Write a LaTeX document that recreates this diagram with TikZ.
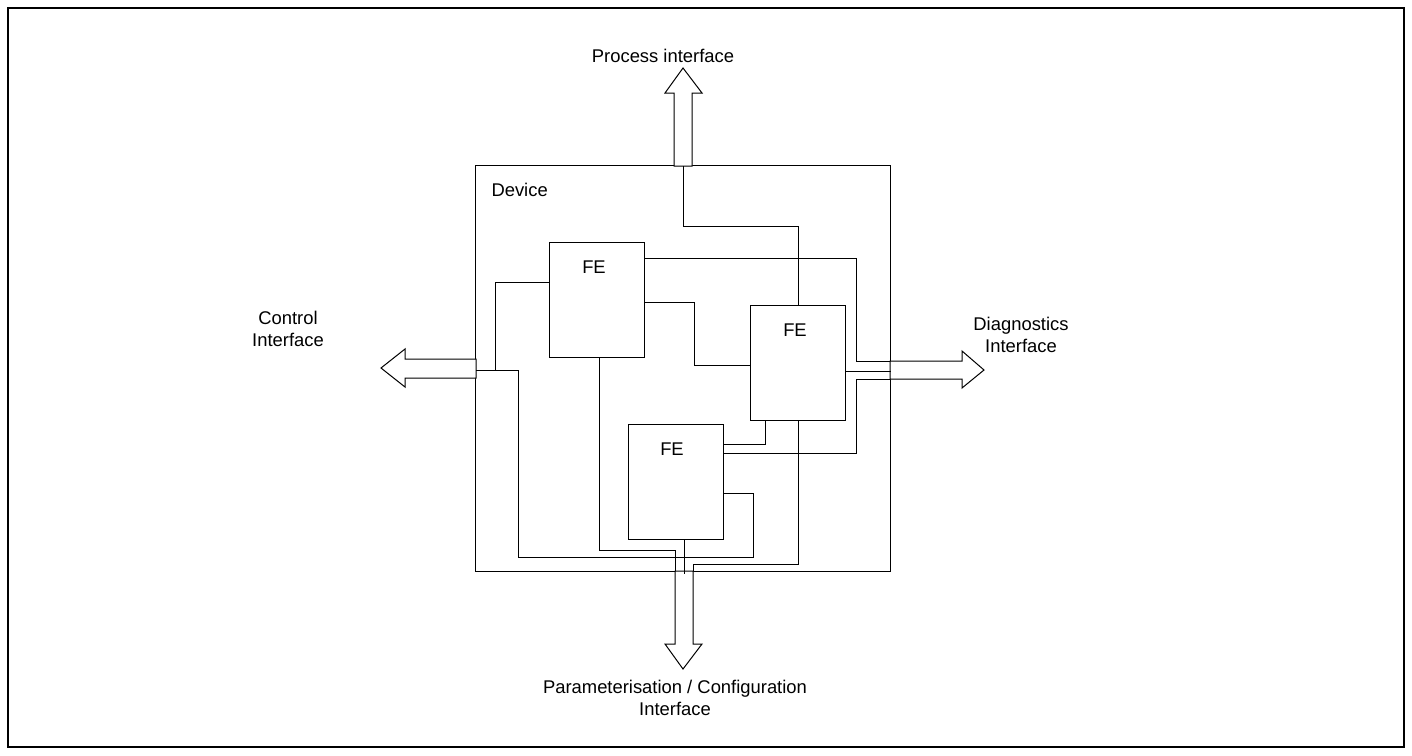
\documentclass[tikz,border=0pt]{standalone}
\usepackage{fontspec}
\setmainfont{Liberation Sans}
\begin{document}
\begin{tikzpicture}[x=0.5pt, y=-0.5pt, line width=0.5pt,
  lbl/.style={font=\fontsize{9.2}{11}\selectfont, inner sep=0pt},
  febox/.style={draw, minimum width=47.5pt, minimum height=57.5pt, inner sep=0pt},
  wire/.style={draw},
  iface/.style={draw, fill=white}]
\useasboundingbox (0,0) rectangle (1412,755);
\draw[line width=0.75pt] (8,8) rectangle (1404,747);
\node[draw, minimum width=207.5pt, minimum height=203pt, inner sep=0pt] (device) at (682.5,368) {};
\node[lbl, anchor=base west] (devicetext) at (491,196) {Device};
\node[febox] (fe1) at (596.5,299.5) {};
\node[febox] (fe2) at (798,363) {};
\node[febox] (fe3) at (675.5,481.5) {};
\node[lbl, anchor=base] (fe1text) at (594,273) {FE};
\node[lbl, anchor=base] (fe2text) at (795,336) {FE};
\node[lbl, anchor=base] (fe3text) at (672,455) {FE};
% interfaces
\draw[iface] (674,166) -- (674,93) -- (665,93) -- (683,68) -- (702,93) -- (692,93) -- (692,166) -- cycle;
\draw[iface] (476,359) -- (405,359) -- (405,349) -- (381,368) -- (405,387) -- (405,378) -- (476,378) -- cycle;
\draw[iface] (890,361) -- (962,361) -- (962,351) -- (984,370) -- (962,388) -- (962,379) -- (890,379) -- cycle;
\draw[iface] (675,571) -- (675,644) -- (665,644) -- (683,669) -- (702,644) -- (693,644) -- (693,571) -- cycle;
\coordinate (procin) at (683,166);
\coordinate (ctrlin) at (476,370);
\coordinate (diagup) at (890,361);
\coordinate (diagdown) at (890,379);
\coordinate (parleft) at (675,571);
\coordinate (parmid) at (684,574);
\coordinate (parright) at (693,571);
\node[lbl, anchor=base] (proctext) at (663,62) {Process interface};
\node[lbl, anchor=base, align=center] (ctrltext) at (288,346) {Control\\Interface};
\node[lbl, anchor=base, align=center] (diagtext) at (1021,352) {Diagnostics\\Interface};
\node[lbl, anchor=base, align=center] (partext) at (675,715) {Parameterisation / Configuration\\Interface};
% wires
\draw[wire] (procin) -- (683,226) -| (fe2.north);
\draw[wire] (fe1.east |- 0,258) -| (856,361) -- (diagup);
\draw[wire] (fe1.east |- 0,302) -| (694,365) -- (fe2.west |- 0,365);
\draw[wire] (fe1.west |- 0,282) -| (495,370);
\draw[wire] (ctrlin) -| (518,557) -| (753,493) -- (fe3.east |- 0,493);
\draw[wire] (fe1.south -| 599,0) -- (599,550) -| (parleft);
\draw[wire] (fe3.south -| 684,0) -- (parmid);
\draw[wire] (fe2.south) |- (693,564) -- (parright);
\draw[wire] (fe2.south -| 765,0) |- (fe3.east |- 0,444);
\draw[wire] (fe3.east |- 0,453) -| (856,379) -- (diagdown);
\draw[wire] (fe2.east |- 0,371) -- (device.east |- 0,371);
\end{tikzpicture}
\end{document}
